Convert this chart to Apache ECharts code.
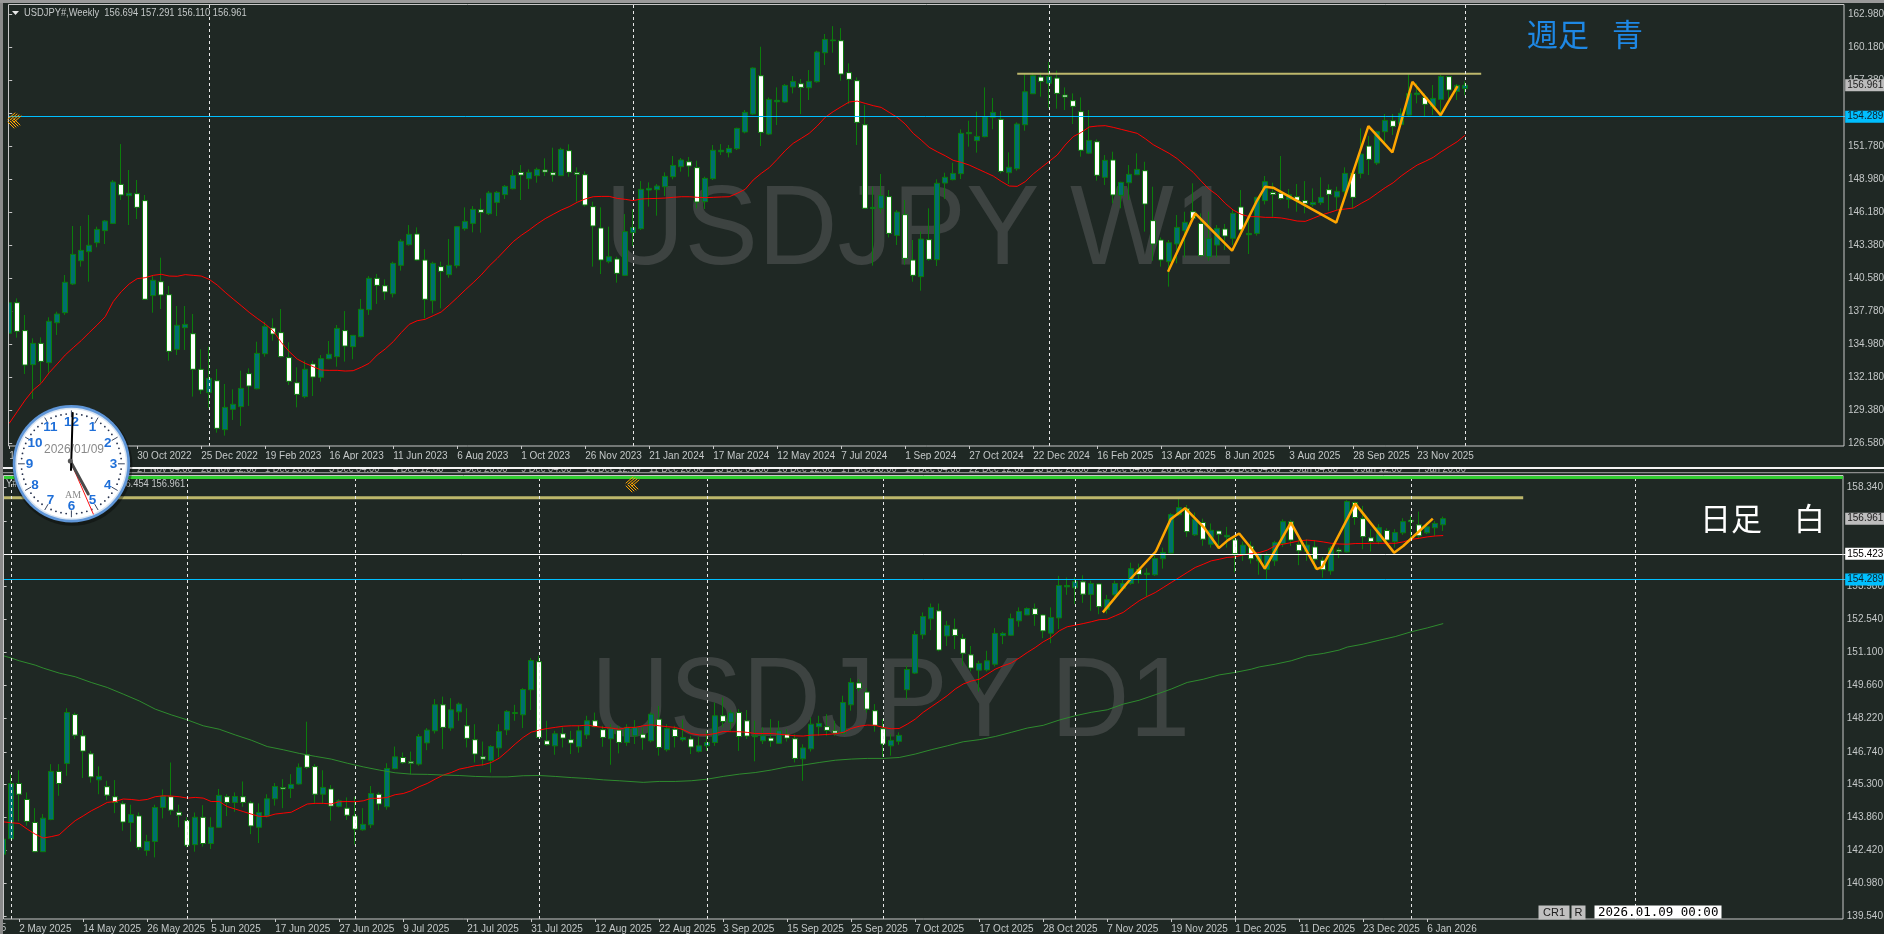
<!DOCTYPE html>
<html><head><meta charset="utf-8">
<style>html,body{margin:0;padding:0;background:#1f2824;overflow:hidden}#c{width:1884px;height:934px}</style>
<script src="https://cdn.jsdelivr.net/npm/echarts@6/dist/echarts.min.js"></script></head>
<body><div id="c"></div>
<script>
// ---------- DATA ----------
// rows are [open, close, low, high]
const weeklyCandles = [
[135.91,138.51,135.91,139.36],[138.51,136.08,135.54,138.88],[136.14,133.22,132.46,137.47],[133.25,135.06,130.34,135.49],[135.06,133.53,131.72,135.57],[133.42,136.93,132.57,137.27],[136.81,137.55,135.77,137.75],[137.66,140.24,137.47,140.86],[140.1,142.61,140.01,145.02],[142.07,142.95,141.57,145.02],
[142.84,143.38,140.29,145.95],[143.6,144.73,143.21,144.96],[144.62,145.44,143.49,145.53],[145.24,148.75,145.19,148.92],[148.55,147.65,147.22,151.97],[147.59,147.79,145.1,149.77],[147.76,146.6,145.61,148.92],[147.17,138.8,138.74,147.65],[139.11,140.41,137.66,140.86],[140.29,139.16,137.97,142.33],
[139.19,134.38,133.59,139.93],[134.55,136.59,134.07,138.23],[136.39,136.67,134.5,138.23],[135.88,132.86,130.54,137.55],[132.86,131.1,130.76,134.55],[130.88,132.09,129.55,134.78],[131.89,127.85,127.48,132.88],[127.74,129.63,127.23,131.61],[129.46,129.89,128.56,131.16],[129.69,131.24,128.05,132.74],
[132.49,131.44,129.75,132.94],[131.21,134.21,131.16,135.2],[134.18,136.5,133.93,136.9],[136.36,135.85,135.29,137.18],[135.97,133.93,133.87,137.97],[133.85,131.84,131.53,135.15],[131.72,130.73,129.63,133.03],[130.54,132.86,130.4,133.59],[133.31,132.2,130.59,133.59],[132.18,133.76,131.81,134.07],
[133.76,134.13,133.71,135.26],[133.93,136.33,133.08,136.62],[136.14,134.83,133.51,137.8],[134.78,135.74,133.71,135.77],[135.63,137.95,135.57,138.82],[137.92,140.58,137.47,140.77],[140.58,139.98,138.4,140.95],[139.95,139.42,138.74,140.49],[139.27,141.85,138.96,141.99],[141.68,143.72,141.23,143.91],
[143.43,144.31,143.35,145.1],[144.34,142.13,142.07,144.9],[142.13,138.8,137.18,143.04],[138.68,141.85,137.61,141.99],[141.57,141.17,138.03,141.99],[140.89,141.68,140.63,143.91],[141.65,144.96,141.43,145.02],[144.79,145.41,144.62,146.6],[145.24,146.43,144.48,146.71],[146.4,146.18,144.45,147.36],
[146.06,147.82,145.95,147.99],[147.02,147.87,145.86,147.99],[147.68,148.38,147.31,148.49],[148.18,149.31,148.13,149.77],[149.57,149.34,147.22,150.19],[149.03,149.57,148.16,149.82],[149.29,149.82,148.69,149.97],[149.77,149.6,149.26,150.76],[149.54,149.34,148.78,151.66],[149.29,151.52,149.26,151.66],
[151.41,149.57,149.2,151.95],[149.54,149.4,147.08,150.0],[149.37,146.8,146.66,149.65],[146.66,145.02,141.57,147.08],[144.85,142.13,140.94,146.6],[141.99,142.41,141.85,144.96],[142.22,141.0,140.21,142.41],[140.83,144.54,140.77,146.03],[144.45,144.9,143.32,146.43],[144.79,148.13,144.68,148.83],
[148.07,148.21,146.66,148.72],[148.1,148.41,145.89,148.58],[148.35,149.23,147.56,149.57],[149.2,150.16,148.98,150.96],[150.05,150.62,149.63,150.79],[150.47,150.11,149.2,150.87],[149.97,147.05,146.52,150.56],[147.08,149.06,146.46,149.2],[149.03,151.44,148.92,151.89],[151.32,151.44,151.04,151.97],
[151.24,151.6,150.84,151.89],[151.58,153.3,151.46,153.36],[152.99,154.66,152.88,154.86],[154.52,158.42,154.43,158.48],[157.77,152.96,151.8,160.23],[152.82,155.76,152.74,155.93],[155.56,155.68,153.58,156.78],[155.54,156.95,155.48,157.06],[156.81,157.29,156.27,157.74],[157.09,156.78,154.52,157.49],
[156.75,157.29,155.71,158.25],[157.26,159.78,157.18,159.89],[159.72,160.85,158.68,161.31],[160.74,160.8,159.72,161.98],[160.74,157.91,157.35,161.81],[158.03,157.46,155.37,158.82],[157.35,153.81,151.89,157.63],[153.61,146.52,146.46,155.28],[146.49,146.6,141.65,148.35],[146.52,147.59,146.09,149.43],
[147.51,144.39,144.05,148.07],[144.22,146.2,143.4,146.37],[145.98,142.27,141.71,147.22],[142.13,140.83,140.29,143.83],[140.72,143.91,139.53,144.54],[143.86,142.19,142.07,146.52],[142.16,148.64,141.62,148.98],[148.66,149.15,147.31,149.54],[148.95,149.48,148.89,150.39],[149.46,152.88,149.0,153.22],
[152.85,152.96,151.75,153.95],[152.26,152.62,151.24,154.72],[152.6,154.29,152.54,156.78],[154.24,154.66,153.22,155.88],[154.07,149.65,149.48,154.77],[149.54,150.0,148.58,151.27],[149.88,153.67,149.71,153.81],[153.61,156.41,153.1,157.91],[156.24,157.77,156.22,158.03],[157.66,157.29,155.99,158.03],
[157.12,157.71,155.0,158.93],[157.57,156.27,154.97,158.2],[156.13,155.96,154.86,156.78],[155.65,155.17,153.67,156.27],[154.72,151.44,150.9,155.93],[151.2,152.28,151.12,154.86],[152.17,149.32,148.86,152.37],[149.15,150.59,148.5,151.04],[150.62,147.65,146.94,151.32],[147.62,148.72,146.52,148.78],
[148.69,149.4,147.22,150.19],[149.37,149.82,149.34,151.18],[149.71,146.88,144.54,150.47],[145.47,143.49,142.07,148.35],[143.83,142.13,141.57,144.05],[141.99,143.6,139.87,143.83],[143.49,144.9,141.85,145.95],[144.62,145.33,142.36,146.23],[146.23,145.67,145.53,148.64],[145.24,142.5,142.41,146.09],
[142.41,143.97,142.07,146.23],[143.4,144.82,142.36,145.1],[144.76,144.17,142.98,145.19],[143.97,146.09,143.4,146.37],[146.63,144.68,144.11,148.07],[144.28,144.39,142.64,145.81],[144.39,147.45,144.2,147.5],[147.17,148.78,146.85,149.26],[147.87,147.7,145.81,148.69],[147.79,147.34,147.22,150.96],
[147.28,147.67,146.52,148.16],[147.5,147.19,146.23,148.58],[147.17,146.94,146.09,148.83],[146.83,147.02,146.66,148.21],[147.0,147.45,146.8,149.15],[148.1,147.7,146.32,148.55],[147.48,147.96,146.37,148.35],[147.93,149.48,147.22,150.0],[149.48,147.45,146.52,149.77],[149.48,151.12,149.06,153.3],
[151.8,150.67,149.34,152.65],[150.36,153.02,150.19,153.1],[153.02,153.98,152.03,154.52],[153.95,153.47,152.74,154.52],[153.64,154.58,153.44,155.0],[154.43,156.27,154.29,157.91],[156.16,156.3,155.42,157.12],[155.93,155.34,154.35,156.27],[155.14,155.85,154.43,156.98],[155.76,157.71,154.43,157.83],
[157.69,156.55,155.71,157.74],[156.44,156.95,155.71,157.06],[156.694,156.961,156.11,157.291]];

const weeklyMA = [128.27,129.26,130.25,131.1,131.67,132.57,133.31,134.07,134.69,135.29,135.97,136.62,137.32,138.6,139.44,140.1,140.55,140.63,140.83,140.92,140.77,140.75,140.89,140.83,140.77,140.49,140.01,139.39,138.82,138.26,137.69,137.18,136.7,136.11,135.15,134.36,133.73,133.37,133.08,132.8,132.77,132.77,132.71,132.74,133.03,133.37,134.07,134.58,135.2,135.97,136.67,136.98,137.1,137.41,137.72,138.31,138.94,139.59,140.21,140.86,141.62,142.27,142.98,143.69,144.22,144.68,145.19,145.64,146.01,146.37,146.66,147.03,147.31,147.5,147.53,147.53,147.36,147.28,
147.17,147.31,147.34,147.36,147.39,147.45,147.5,147.5,147.45,147.42,147.45,147.48,147.5,147.79,148.13,148.92,149.48,149.97,150.67,151.41,152.03,152.45,152.88,153.5,154.24,154.72,155.14,155.54,155.62,155.42,155.23,155.08,154.66,154.24,153.67,152.88,152.31,151.69,151.32,150.98,150.59,150.42,150.19,149.88,149.57,149.26,148.81,148.41,148.38,148.78,149.43,149.97,150.5,151.04,151.89,152.6,152.96,153.42,153.5,153.53,153.39,153.22,153.05,152.88,152.43,151.92,151.55,151.18,150.73,150.14,149.57,148.83,148.13,147.65,146.94,146.37,146.01,145.81,
145.81,145.75,145.75,145.7,145.58,145.44,145.41,145.67,145.95,146.15,146.37,146.46,146.54,146.94,147.31,147.79,148.27,148.69,149.26,149.74,150.19,150.5,150.84,151.32,151.75,152.17,152.73];

const weeklyZigzag = [[144.85,141.14],[148.25,146.09],[152.86,142.92],[156,147.2],[157,148.35],[158,148.27],[165.88,145.3],[169.9,153.5],[172.9,151.27],[175.4,157.26],[178.93,154.43],[180.03,155.71],[181.04,156.89]];
const weeklyResistance = [[126,157.94],[184,157.94]];
const weeklyYearLines = [25,78,130,182];
const weeklyTickValues = [126.58,129.38,132.18,134.98,137.78,140.58,143.38,146.18,148.98,151.78,154.58,157.38,160.18,162.98];
const weeklyLabelValues = [126.58,129.38,132.18,134.98,137.78,140.58,143.38,146.18,148.98,151.78,157.38,160.18,162.98];
const weeklyTickLabels = ["10 Jul 2022","4 Sep 2022","30 Oct 2022","25 Dec 2022","19 Feb 2023","16 Apr 2023","11 Jun 2023","6 Aug 2023","1 Oct 2023","26 Nov 2023","21 Jan 2024","17 Mar 2024","12 May 2024","7 Jul 2024","1 Sep 2024","27 Oct 2024","22 Dec 2024","16 Feb 2025","13 Apr 2025","8 Jun 2025","3 Aug 2025","28 Sep 2025","23 Nov 2025"];

const dailyCandles = [
[142.25,142.91,142.2,142.91],[142.93,145.35,142.91,145.76],[145.35,144.88,143.69,145.93],[144.65,143.69,143.5,144.96],[143.64,142.36,142.33,144.27],[142.36,143.83,142.36,144.01],[143.77,145.88,143.74,146.2],[145.88,145.35,144.81,146.2],[146.23,148.46,145.69,148.65],[148.37,147.47,147.3,148.46],
[147.44,146.77,145.59,147.69],[146.65,145.64,145.39,146.78],[145.51,145.66,144.88,146.1],[145.21,144.84,144.62,145.47],[144.77,144.52,144.05,145.5],[144.46,143.66,143.28,144.59],[143.64,143.99,142.8,144.42],[143.93,142.55,142.43,144.08],[142.41,142.81,142.18,143.1],[142.81,144.3,142.11,144.42],
[144.3,144.8,143.82,145.09],[144.77,144.18,143.98,146.27],[144.09,143.96,143.43,144.42],[143.72,142.64,142.55,143.87],[142.67,143.87,142.36,144.08],[143.87,142.72,142.58,144.4],[142.72,143.43,142.48,143.87],[143.43,144.83,143.4,145.11],[144.77,144.52,143.92,144.88],[144.52,144.78,144.11,144.96],
[144.77,144.52,144.33,145.44],[144.5,143.49,143.13,144.59],[143.43,144.08,142.74,144.48],[143.92,144.68,143.86,144.88],[144.68,145.22,144.38,145.37],[145.17,145.11,144.27,145.54],[145.13,145.31,144.71,145.76],[145.33,146.06,145.3,146.23],[146.61,146.06,145.98,148.06],[146.09,144.88,144.48,146.2],
[144.88,145.18,144.45,145.93],[145.11,144.36,143.72,145.28],[144.35,144.59,144.3,144.66],[144.27,143.96,143.75,144.74],[143.93,143.35,142.67,144.77],[143.32,143.56,143.28,144.27],[143.54,144.91,143.4,145.24],[144.88,144.45,144.18,144.96],[144.33,146.01,144.2,146.24],[146.0,146.52,145.97,146.97],
[146.49,146.26,146.2,146.71],[146.3,146.24,145.76,146.75],[146.2,147.41,146.13,147.52],[147.13,147.69,146.81,147.78],[147.66,148.8,147.54,149.05],[148.8,147.81,146.86,149.16],[147.78,148.58,147.66,149.09],[148.49,148.83,148.1,148.9],[147.88,147.33,146.93,148.65],[147.27,146.64,146.27,147.95],
[146.52,146.42,146.13,147.19],[146.36,146.97,145.83,147.03],[146.91,147.63,146.49,147.95],[147.7,148.51,147.47,148.57],[148.42,148.46,148.1,148.8],[148.36,149.47,147.78,149.53],[149.46,150.74,148.57,150.85],[150.69,147.37,147.34,150.95],[147.22,147.05,147.0,148.1],[147.0,147.53,146.61,147.66],
[147.53,147.34,146.93,147.81],[147.27,147.12,146.64,147.66],[146.96,147.66,146.7,147.88],[147.48,148.1,147.3,148.32],[148.1,147.84,147.81,148.46],[147.71,147.37,146.96,147.88],[147.31,147.78,146.17,147.95],[147.69,147.15,146.67,147.88],[147.15,147.81,147.0,147.95],[147.44,147.81,147.08,148.13],
[147.51,147.34,146.83,147.81],[147.22,148.39,147.15,148.46],[148.17,146.93,146.57,148.75],[146.83,147.76,146.75,147.95],[147.73,147.41,146.93,147.88],[147.27,147.37,147.19,148.15],[147.3,146.95,146.64,147.44],[146.76,147.0,146.71,147.4],[147.0,147.15,146.78,147.66],[147.15,148.32,147.0,148.9],
[148.32,148.07,147.81,149.12],[148.03,148.45,147.66,148.57],[148.46,147.41,146.78,148.61],[148.1,147.43,147.3,148.57],[147.4,147.44,146.32,148.1],[147.22,147.44,147.08,147.81],[147.34,147.21,146.96,148.17],[147.11,147.66,147.08,148.1],[147.51,147.34,147.19,147.73],[147.31,146.45,146.27,147.51],
[146.43,146.91,145.47,147.07],[146.87,147.95,146.75,148.24],[147.84,147.98,147.44,148.32],[147.84,147.68,147.44,148.39],[147.66,147.56,147.44,148.1],[147.55,148.9,147.51,149.2],[148.8,149.78,148.54,149.97],[149.76,149.52,149.39,149.92],[149.36,148.61,148.46,149.53],[148.54,147.9,147.62,148.83],
[147.75,147.08,146.52,148.17],[147.0,147.24,146.57,147.51],[147.2,147.46,147.05,147.59],[149.46,150.35,149.05,150.51],[150.19,151.88,150.15,152.04],[151.87,152.67,151.68,152.85],[152.57,153.07,152.07,153.24],[152.92,151.2,151.14,153.24],[151.82,152.28,151.38,152.48],[152.12,151.84,151.24,152.58],
[151.7,151.06,150.51,151.9],[150.99,150.41,150.26,151.38],[150.32,150.61,149.38,150.73],[150.33,150.73,150.26,151.17],[150.58,151.93,150.48,152.16],[151.83,151.93,151.46,152.0],[151.85,152.58,151.82,152.8],[152.48,152.89,152.22,153.07],[152.74,153.02,152.73,153.07],[153.01,152.76,152.26,153.24],
[152.74,152.04,151.72,152.77],[151.94,152.63,151.5,153.07],[152.61,154.03,152.12,154.45],[153.97,154.03,153.62,154.38],[153.93,154.2,153.21,154.38],[154.19,153.65,153.27,154.48],[153.64,154.12,152.92,154.24],[154.1,153.1,152.77,154.12],[152.98,153.41,152.8,153.62],[153.62,154.12,153.5,154.24],
[153.91,154.12,153.8,154.31],[154.12,154.77,154.06,155.03],[154.74,154.52,154.12,154.99],[154.51,154.57,153.55,154.79],[154.5,155.21,154.45,155.47],[155.2,155.48,154.77,155.69],[155.45,157.14,155.43,157.2],[157.13,157.45,157.08,157.88],[157.39,156.39,156.16,157.56],[156.25,156.93,156.2,157.23],
[156.79,156.06,155.77,156.96],[155.84,156.45,155.69,156.75],[156.42,156.28,155.62,156.42],[156.16,156.23,155.69,156.6],[156.03,155.43,154.6,156.2],[155.4,155.8,155.11,155.96],[155.75,155.2,154.99,155.96],[155.11,155.4,154.5,155.47],[154.74,155.36,154.3,155.47],[155.11,155.91,154.89,155.99],
[155.87,156.83,155.72,156.93],[156.82,156.02,155.77,156.91],[155.84,155.55,154.92,156.2],[155.52,155.8,155.11,156.06],[155.72,155.18,154.75,156.01],[155.14,154.72,154.37,155.28],[154.67,155.67,154.5,155.77],[155.59,155.53,155.23,155.69],[155.5,157.71,155.47,157.77],[157.67,157.01,156.69,157.71],
[156.96,156.17,155.62,157.52],[156.12,155.96,155.52,156.5],[155.96,156.57,155.84,156.72],[156.44,156.02,155.87,156.54],[155.96,156.35,155.69,156.5],[156.34,156.83,156.25,156.98],[156.89,156.83,156.06,157.08],[156.69,156.21,156.1,157.27],[156.34,156.6,156.28,156.79],[156.56,156.75,156.21,156.86],
[156.69,156.961,156.42,157.05]];

const dailyShortMA = [143.67,143.63,143.6,143.35,143.13,142.96,143.02,143.1,143.42,143.72,143.93,144.15,144.33,144.52,144.56,144.67,144.65,144.61,144.65,144.77,144.81,144.8,144.77,144.71,144.74,144.71,144.56,144.56,144.34,144.23,144.12,144.01,143.91,143.91,144.01,144.05,144.09,144.27,144.45,144.48,144.48,144.45,144.55,144.56,144.55,144.59,144.7,144.7,144.74,144.86,144.91,145.03,145.21,145.35,145.54,145.72,145.83,145.98,146.05,146.13,146.17,146.27,146.46,146.76,147.08,147.37,147.6,147.69,147.76,147.81,147.86,147.88,147.88,147.91,147.85,147.81,147.78,147.73,147.81,
147.81,147.88,147.92,147.88,147.84,147.81,147.71,147.54,147.48,147.48,147.54,147.63,147.62,147.62,147.59,147.54,147.54,147.54,147.51,147.48,147.44,147.43,147.47,147.48,147.5,147.53,147.59,147.76,147.86,147.91,147.9,147.81,147.75,147.76,147.95,148.17,148.47,148.71,148.95,149.2,149.49,149.71,149.84,149.92,150.14,150.36,150.51,150.63,150.85,151.09,151.31,151.56,151.75,152.04,152.22,152.29,152.36,152.44,152.53,152.55,152.7,152.85,153.11,153.36,153.55,153.72,153.94,154.16,154.38,154.6,154.82,154.96,155.11,155.18,155.26,155.29,155.37,155.43,155.47,
155.58,155.77,155.84,155.91,155.99,156.02,155.99,155.94,155.88,155.85,155.84,155.87,155.87,155.88,155.88,155.88,155.88,155.94,156.05,156.1,156.16,156.2,156.22];

const dailyLongIdx = [0,1,2,4,5,7,9,11,13,15,17,19,21,23,25,27,29,31,33,35,37,39,41,43,45,47,49,51,53,55,57,59,61,63,65,67,69,71,73,75,77,
80,82,84,86,88,90,92,94,96,98,100,102,104,106,108,110,112,114,116,118,120,122,124,126,128,130,132,134,136,138,140,142,144,146,148,150,152,154,156,
157,159,161,163,165,167,168,170,172,174,176,178,180];
const dailyLongMA = [150.95,150.85,150.73,150.54,150.41,150.19,150.03,149.78,149.56,149.27,148.97,148.61,148.36,148.14,147.88,147.73,147.48,147.25,146.97,146.83,146.67,146.54,146.42,146.24,146.08,145.94,145.82,145.76,145.75,145.72,145.7,145.66,145.64,145.64,145.69,145.7,145.66,145.61,145.57,145.51,145.47,
145.4,145.44,145.44,145.47,145.54,145.66,145.76,145.83,145.94,146.08,146.16,146.27,146.37,146.42,146.45,146.45,146.49,146.64,146.83,147.0,147.18,147.27,147.41,147.59,147.78,147.9,148.13,148.32,148.47,148.58,148.83,149.0,149.24,149.49,149.78,149.92,150.11,150.22,150.36,
150.46,150.58,150.73,150.95,151.05,151.2,151.33,151.46,151.63,151.79,152.0,152.17,152.36];

const dailyZigzag = [[137.46,152.85],[141.07,154.38],[144.08,155.52],[145.93,156.93],[147.74,157.42],[150.1,156.57],[151.95,155.67],[153.1,156.02],[154.5,156.31],[156.6,155.4],[157.7,154.77],[160.96,156.79],[164.2,154.75],[164.9,154.85],[169.0,157.62],[173.86,155.47],[175.0,155.76],[178.7,156.96]];
const dailyResistance = [[0,157.88],[190,157.88]];
const dailyYearLines = [1,23,44,67,88,110,134,154,176,204];
const dailyTickValues = [139.54,140.98,142.42,143.86,145.30,146.74,148.22,149.66,151.10,152.54,153.98,155.42,156.86,158.34];
const dailyTickLabels = ["2 May 2025","14 May 2025","26 May 2025","5 Jun 2025","17 Jun 2025","27 Jun 2025","9 Jul 2025","21 Jul 2025","31 Jul 2025","12 Aug 2025","22 Aug 2025","3 Sep 2025","15 Sep 2025","25 Sep 2025","7 Oct 2025","17 Oct 2025","28 Oct 2025","7 Nov 2025","19 Nov 2025","1 Dec 2025","11 Dec 2025","23 Dec 2025","6 Jan 2026"];

const supportLevel = 154.289, dailyPivot = 155.423, lastClose = 156.961;
const hiddenStripLabels = ["27 Nov 04:00","28 Nov 12:00","1 Dec 20:00","3 Dec 04:00","4 Dec 12:00","5 Dec 20:00","9 Dec 04:00","10 Dec 12:00","11 Dec 20:00","15 Dec 04:00","16 Dec 12:00","17 Dec 20:00","19 Dec 04:00","22 Dec 12:00","23 Dec 20:00","25 Dec 04:00","26 Dec 12:00","31 Dec 04:00","5 Jan 04:00","6 Jan 12:00","7 Jan 20:00"];

// ---------- STYLE ----------
const BG='#1f2824', TXT='#c4c8c8', FRAME='#c8c8c8', WICK='#0b7d0b', TEAL='#006f6f', UPFONT='"Liberation Sans",sans-serif';
const fnt={fontFamily:UPFONT,fontSize:10,color:TXT};

const WN=230, DN=231;
const weeklyCats=Array.from({length:WN},(_, i)=> (i%8===0 && weeklyTickLabels[i/8])||'');
const dailyCats=Array.from({length:DN},(_, i)=> ((i-2)%8===0 && dailyTickLabels[(i-2)/8])||'');
const hasLabel=(i,v)=>v!=='';

function xCat(gridIndex,data){return {type:'category',gridIndex,data,boundaryGap:true,axisLine:{show:false},
  axisTick:{show:true,alignWithLabel:true,interval:hasLabel,length:3,lineStyle:{color:FRAME}},
  axisLabel:{show:true,interval:hasLabel,align:'left',margin:5,hideOverlap:false,...fnt},splitLine:{show:false}};}
function xVal(gridIndex,n){return {type:'value',gridIndex,min:-0.5,max:n-0.5,show:false};}
function yAx(gridIndex,min,max,ticks,labels,offset,margin){return {type:'value',gridIndex,position:'right',offset,min,max,scale:true,splitLine:{show:false},axisLine:{show:false},
  axisTick:{show:true,length:3,customValues:ticks,lineStyle:{color:FRAME}},
  axisLabel:{show:true,customValues:labels,margin,formatter:v=>Number(v).toFixed(3),...fnt}};}

function boxLabel(v,textColor,bg,distance){return {show:true,position:'end',distance,formatter:v.toFixed(3),backgroundColor:bg,color:textColor,fontFamily:UPFONT,fontSize:10,padding:[1,2,1,2],lineHeight:10};}
function priceLine(v,color,width,textColor,bg,distance){return {yAxis:v,lineStyle:{color,width,type:'solid'},label:boxLabel(v,textColor,bg,distance)};}
function yearLines(arr){return arr.map(i=>({xAxis:i,lineStyle:{color:'#e8e8e8',width:1,type:[3,3]},label:{show:false}}));}
const CLEAR='rgba(0,0,0,0)';

const candleStyle={color:TEAL,color0:'#ffffff',borderColor:WICK,borderColor0:WICK,borderWidth:1};
function candles(name,xi,yi,data,marks){return {name,type:'candlestick',xAxisIndex:xi,yAxisIndex:yi,data,barWidth:5,itemStyle:candleStyle,z:2,silent:true,animation:false,
  markLine:{silent:true,symbol:'none',animation:false,z:6,data:marks}};}
function line(name,xi,yi,data,color,width,z){return {name,type:'line',xAxisIndex:xi,yAxisIndex:yi,data,showSymbol:false,symbol:'none',silent:true,animation:false,z,lineStyle:{color,width},itemStyle:{color}};}

const option={animation:false,backgroundColor:BG,tooltip:{show:false},
  grid:[{left:5.2,top:5,width:1840,height:441,containLabel:false,outerBoundsMode:'none'},{left:-0.8,top:476,width:1848,height:443,containLabel:false,outerBoundsMode:'none'}],
  xAxis:[xCat(0,weeklyCats),xCat(1,dailyCats),xVal(0,WN),xVal(1,DN)],
  yAxis:[yAx(0,126.35,163.77,weeklyTickValues,weeklyLabelValues,-1.2,4),yAx(1,139.41,158.83,dailyTickValues,dailyTickValues,-4.4,4)],
  series:[
    candles('USDJPY W1',0,0,weeklyCandles,[...yearLines(weeklyYearLines),priceLine(supportLevel,'#00bfff',1,'#102028','#00bfff',0),{yAxis:lastClose,lineStyle:{color:CLEAR},label:boxLabel(lastClose,'#202020','#bdbdbd',0)}]),
    line('MA W1',0,0,weeklyMA,'#ff0000',1,3),
    line('Resistance W1',0,0,weeklyResistance,'#bdb76b',2,5),
    line('Zigzag W1',2,0,weeklyZigzag,'#ffa500',2.5,4),
    candles('USDJPY D1',1,1,dailyCandles,[...yearLines(dailyYearLines),priceLine(dailyPivot,'#ffffff',1,'#000000','#ffffff',-2),priceLine(supportLevel,'#00bfff',1,'#102028','#00bfff',-2),{yAxis:lastClose,lineStyle:{color:CLEAR},label:boxLabel(lastClose,'#202020','#bdbdbd',-2)}]),
    line('MA short D1',1,1,dailyShortMA,'#ff0000',1,3),
    line('MA long D1',1,1,dailyLongIdx.map((i,k)=>[i,dailyLongMA[k]]),'#2e8b2e',1,3),
    line('Resistance D1',1,1,dailyResistance,'#bdb76b',3,5),
    line('Zigzag D1',3,1,dailyZigzag,'#ffa500',2.5,4)
  ],
  graphic:{elements:buildGraphics()}
};

function rect(x,y,w,h,fill,z,stroke){return {type:'rect',silent:true,z,shape:{x,y,width:w,height:h},style:{fill:fill||'none',stroke:stroke||null,lineWidth:1}};}
function txt(x,y,text,opts,z,sx){return {type:'text',silent:true,z,x,y,scaleX:sx||1,style:Object.assign({text,fill:TXT,font:'11px '+UPFONT,textAlign:'left',textVerticalAlign:'middle'},opts||{})};}
function seg(x1,y1,x2,y2,stroke,w,z){return {type:'line',silent:true,z,shape:{x1,y1,x2,y2},style:{stroke,lineWidth:w,lineCap:'round'}};}

function buildGraphics(){
  const g=[];
  const NAR=0.85;
  // watermarks, below the series
  g.push(txt(605,233,'USDJPY W1',{fill:'#3d4341',font:'114px "Liberation Sans",sans-serif'},0,0.966));
  g.push(txt(591,705,'USDJPY D1',{fill:'#3d4341',font:'114px "Liberation Sans",sans-serif'},0,0.955));
  // outside-of-plot cover for the sliver left of the frame
  g.push(rect(3,5,5,441,BG,50));
  g.push(rect(0,0,3,934,'#8a8a8a',60));
  g.push(rect(0,0,1884,3,'#9a9a9a',60));
  // frames
  g.push(rect(8.5,4.5,1835.5,441.5,null,51,FRAME));
  g.push(rect(3.5,475.5,1839.5,443.5,null,51,FRAME));
  // clipped strip of a hidden chart between both panels
  hiddenStripLabels.forEach((s,i)=>g.push(txt(137+64*i,468.5,s,{fill:'#b0b0b0'},40,NAR)));
  g.push(rect(3,460,1881,7,BG,41));
  g.push(rect(3,467,1881,2,'#f4f4f4',42));
  g.push(rect(3,472,1881,1.5,'#8c8c8c',42));
  g.push(rect(3,473.5,1881,2.5,BG,42));
  g.push(rect(4,476,1839,3,'#32cd32',52));
  // chart titles
  g.push({type:'polygon',silent:true,z:53,shape:{points:[[12,11],[19,11],[15.5,15]]},style:{fill:'#e8e8e8'}});
  g.push(txt(24,13,'USDJPY#,Weekly  156.694 157.291 156.110 156.961',{},53,NAR));
  g.push(txt(6,484,'Y#,',{},53,NAR));
  g.push(txt(115,484,'156.454 156.961',{},53,NAR));
  g.push(txt(1,928,'5',{},53,NAR));
  // period captions
  const cjk='"Noto Sans CJK JP",sans-serif';
  g.push(txt(1527,34,'週足',{fill:'#1e88e5',font:'31px '+cjk},53));
  g.push(txt(1612,34,'青',{fill:'#1e88e5',font:'31px '+cjk},53));
  g.push(txt(1700,518,'日足',{fill:'#ffffff',font:'31px '+cjk},53));
  g.push(txt(1794,518,'白',{fill:'#ffffff',font:'31px '+cjk},53));
  // buttons
  g.push(rect(1538.5,905.5,31,14,'#c0c0c0',53));
  g.push(txt(1554,913,'CR1',{fill:'#202020',textAlign:'center'},54));
  g.push(rect(1571.5,905.5,14,14,'#c0c0c0',53));
  g.push(txt(1578.5,913,'R',{fill:'#202020',textAlign:'center'},54));
  g.push(rect(1594.5,905.5,127,13,'#ffffff',53));
  g.push(txt(1598,912.5,'2026.01.09 00:00',{fill:'#000000',font:'12.5px "DejaVu Sans Mono",monospace'},54));
  // object anchors (orange hatched marks)
  [[8,112],[626,476]].forEach(([x,y])=>{
    for(let k=0;k<4;k++){g.push(seg(x+k*2,y+10-k,x+6+k*2,y+16-k,'#ffa500',1,55));g.push(seg(x+k*2,y+7+k,x+7+k*2,y+1+k,'#ffa500',1,55));}
  });
  // analogue clock
  const cx=71.4,cy=463.8,Z=70;
  g.push({type:'circle',silent:true,z:Z,shape:{cx:cx+1,cy:cy+2,r:60},style:{fill:'rgba(0,0,0,0.35)'}});
  g.push({type:'circle',silent:true,z:Z,shape:{cx,cy,r:58.7},style:{fill:'#5f96d8'}});
  g.push({type:'circle',silent:true,z:Z,shape:{cx,cy,r:56},style:{fill:'#d8e4f2'}});
  g.push({type:'circle',silent:true,z:Z,shape:{cx,cy,r:54.5},style:{fill:'#ffffff'}});
  for(let m=0;m<60;m++){
    const a=m*Math.PI/30,s=Math.sin(a),c=Math.cos(a);
    if(m%5===0) g.push(seg(cx+47*s,cy-47*c,cx+53*s,cy-53*c,'#3a4660',1,Z));
    else g.push({type:'circle',silent:true,z:Z,shape:{cx:cx+50*s,cy:cy-50*c,r:0.9},style:{fill:'#26324e'}});
  }
  for(let h=1;h<=12;h++){
    const a=h*Math.PI/6;
    g.push(txt(cx+42*Math.sin(a),cy-42*Math.cos(a),String(h),{fill:'#1f6fd8',font:'bold 13.5px "Liberation Sans",sans-serif',textAlign:'center'},Z));
  }
  g.push(txt(74,450,'2026/01/09',{fill:'#8a8a8a',font:'12px "Liberation Sans",sans-serif',textAlign:'center'},Z));
  g.push(txt(73,495,'AM',{fill:'#8a8a8a',font:'10px "Liberation Serif",serif',textAlign:'center'},Z));
  g.push(seg(70.3,461,93.3,514,'#ff1010',1,Z));
  g.push(seg(70.3,461,88.3,494,'#4a4a4a',3,Z));
  g.push(seg(71,470,72.7,413,'#000000',2,Z));
  g.push({type:'circle',silent:true,z:Z,shape:{cx:70.3,cy:461,r:2.5},style:{fill:'#555555'}});
  return g;
}
const chart=echarts.init(document.getElementById('c'),null,{renderer:'canvas',width:1884,height:934});
chart.setOption(option);
</script></body></html>
